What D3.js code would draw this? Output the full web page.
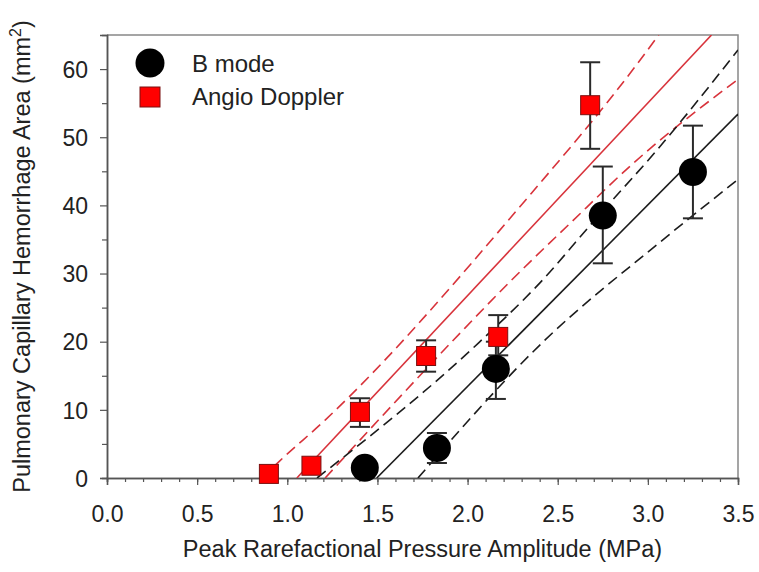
<!DOCTYPE html>
<html><head><meta charset="utf-8">
<script src="https://cdn.jsdelivr.net/npm/d3@7"></script>
<style>body{margin:0;background:#fff}svg{display:block}text{font-family:"Liberation Sans",Arial,sans-serif;fill:#222}</style>
</head><body>
<script>
// Data
const bPressure = [1.43, 1.83, 2.157, 2.75, 3.25];
const bArea     = [1.5, 4.4, 16.0, 38.5, 44.9];
const bLow      = [1.5, 2.2, 11.6, 31.5, 38.1];
const bHigh     = [1.5, 6.6, 20.0, 45.7, 51.7];

const aPressure = [0.898, 1.134, 1.403, 1.77, 2.17, 2.68];
const aArea     = [0.6, 1.8, 9.7, 17.9, 20.7, 54.7];
const aLow      = [0.6, 1.8, 7.5, 15.6, 18.0, 48.3];
const aHigh     = [0.6, 1.8, 11.7, 20.2, 23.9, 61.0];

const bFit      = [[1.496, 0], [3.5, 53.4]];
const bUpper    = [[1.165, 0], [2.06, 19.8], [2.40, 28.6], [2.72, 38.3], [3.05, 48.1], [3.5, 62.8]];
const bLower    = [[1.725, 0], [2.42, 20.0], [3.067, 34.6], [3.5, 43.8]];
const aFit      = [[1.053, 0], [3.353, 65]];
const aUpper    = [[0.86, 0], [0.95, 2.3], [1.21, 8.5], [2.29, 39.8], [2.945, 60.9], [3.06, 65]];
const aLower    = [[1.21, 0], [1.96, 21.3], [2.235, 28.8], [2.57, 37.4], [2.92, 46.2], [3.5, 58.5]];

const xTicks = [0, 0.5, 1.0, 1.5, 2.0, 2.5, 3.0, 3.5];
const xMinor = d3.range(0, 35).map(i => i / 10);
const yTicks = [0, 10, 20, 30, 40, 50, 60];
const yMinor = [5, 15, 25, 35, 45, 55];
const legendLabels = ["B mode", "Angio Doppler"];

const W = 759, H = 572;
const L = 107, R = 738, T = 35, B = 478;
const svg = d3.select("body").append("svg").attr("width", W).attr("height", H);
const x = d3.scaleLinear().domain([0, 3.5]).range([L, R]);
const y = d3.scaleLinear().domain([0, 65]).range([B, T]);

svg.append("defs").append("clipPath").attr("id", "clip")
  .append("rect").attr("x", L).attr("y", T).attr("width", R - L).attr("height", B - T);

const axisColor = "#555";
// frame top/right
svg.append("path").attr("d", `M${L},${T}H${R}V${B}`).attr("fill", "none").attr("stroke", "#888").attr("stroke-width", 1.5);

// x axis
const gx = svg.append("g").attr("transform", `translate(0,${B})`);
gx.call(d3.axisBottom(x).tickValues(xMinor).tickSize(4).tickFormat(""));
gx.append("g").call(d3.axisBottom(x).tickValues(xTicks).tickSize(7).tickFormat(d3.format(".1f")));
gx.selectAll(".domain").attr("stroke", axisColor).attr("stroke-width", 1.5);
gx.selectAll("line").attr("stroke", axisColor).attr("stroke-width", 1.2);
gx.selectAll("text").attr("font-size", 23).attr("fill", "#222").attr("dy", 0).attr("y", 44);

// y axis
const gy = svg.append("g").attr("transform", `translate(${L},0)`);
gy.call(d3.axisLeft(y).tickValues(yMinor).tickSize(5).tickFormat(""));
gy.append("g").call(d3.axisLeft(y).tickValues(yTicks).tickSize(7).tickFormat(d3.format("d")));
gy.selectAll(".domain").attr("stroke", axisColor).attr("stroke-width", 1.5);
gy.selectAll("line").attr("stroke", axisColor).attr("stroke-width", 1.2);
gy.selectAll("text").attr("font-size", 23).attr("fill", "#222").attr("x", -19).attr("dy", "0.36em");

// axis titles
svg.append("text").attr("x", (L + R) / 2).attr("y", 557).attr("text-anchor", "middle")
  .attr("font-size", 23.5).text("Peak Rarefactional Pressure Amplitude (MPa)");
const yl = svg.append("text").attr("transform", `translate(30,${(T + B) / 2}) rotate(-90)`)
  .attr("text-anchor", "middle").attr("font-size", 23.5);
yl.append("tspan").text("Pulmonary Capillary Hemorrhage Area (mm");
yl.append("tspan").attr("dy", -9).attr("font-size", 16).text("2");
yl.append("tspan").attr("dy", 9).text(")");

// lines
const plot = svg.append("g").attr("clip-path", "url(#clip)");
const line = d3.line().x(d => x(d[0])).y(d => y(d[1])).curve(d3.curveMonotoneX);
const red = "#d8333b", blk = "#1c1c1c";
[[aUpper, red, true], [aLower, red, true], [aFit, red, false],
 [bUpper, blk, true], [bLower, blk, true], [bFit, blk, false]].forEach(([d, c, dash]) => {
  plot.append("path").attr("d", line(d)).attr("fill", "none").attr("stroke", c)
    .attr("stroke-width", 1.6).attr("stroke-dasharray", dash ? "11,6" : null);
});

// error bars
function errBars(xs, lo, hi) {
  const g = svg.append("g").attr("stroke", "#2a2a2a").attr("stroke-width", 2).attr("fill", "none");
  xs.forEach((xv, i) => {
    if (hi[i] === lo[i]) return;
    g.append("line").attr("x1", x(xv)).attr("x2", x(xv)).attr("y1", y(lo[i])).attr("y2", y(hi[i]));
    [lo[i], hi[i]].forEach(v => g.append("line").attr("x1", x(xv) - 10).attr("x2", x(xv) + 10)
      .attr("y1", y(v)).attr("y2", y(v)));
  });
}
errBars(bPressure, bLow, bHigh);
errBars(aPressure, aLow, aHigh);

// markers
svg.append("g").selectAll("circle").data(bPressure).join("circle")
  .attr("cx", d => x(d)).attr("cy", (d, i) => y(bArea[i])).attr("r", 14).attr("fill", "#000");
const sq = 19;
svg.append("g").selectAll("rect").data(aPressure).join("rect")
  .attr("x", d => x(d) - sq / 2).attr("y", (d, i) => y(aArea[i]) - sq / 2)
  .attr("width", sq).attr("height", sq).attr("fill", "#f00").attr("stroke", "#7a1010").attr("stroke-width", 1);

// legend
const lg = svg.append("g");
lg.append("circle").attr("cx", 150).attr("cy", 63).attr("r", 14.5).attr("fill", "#000");
lg.append("rect").attr("x", 140).attr("y", 87).attr("width", 20).attr("height", 20)
  .attr("fill", "#f00").attr("stroke", "#7a1010");
lg.append("text").attr("x", 192).attr("y", 72).attr("font-size", 24).text(legendLabels[0]);
lg.append("text").attr("x", 192).attr("y", 105).attr("font-size", 24).text(legendLabels[1]);
</script>
</body></html>
